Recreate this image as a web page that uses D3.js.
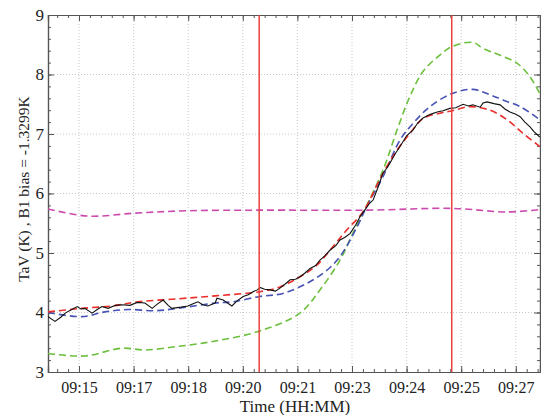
<!DOCTYPE html>
<html>
<head>
<meta charset="utf-8">
<script src="https://cdn.jsdelivr.net/npm/d3@7"></script>
<style>
  body { margin: 0; background: #fff; }
  svg { display: block; }
  text { font-family: "Liberation Serif", "DejaVu Serif", serif; fill: #222; }
</style>
</head>
<body>
<svg width="541" height="415"></svg>
<script>
  // time in decimal minutes after 09:00, value in K
  const tickMinutes = [15, 16.5, 18, 19.5, 21, 22.5, 24, 25.5, 27];
  const tickLabels = ['09:15', '09:17', '09:18', '09:20', '09:21', '09:23', '09:24', '09:25', '09:27'];
  const yTicks = [3, 4, 5, 6, 7, 8, 9];
  const markerMinutes = [19.95, 25.24];

  const blackSeries = [
    [14.15, 3.93], [14.34, 3.85], [14.5, 3.92], [14.62, 3.99], [14.8, 4.05], [14.95, 4.10],
    [15.05, 4.06], [15.16, 4.07], [15.36, 3.99], [15.5, 4.05], [15.63, 4.10], [15.8, 4.07],
    [16.0, 4.12], [16.18, 4.13], [16.4, 4.12], [16.6, 4.17], [16.81, 4.16], [17.01, 4.07],
    [17.15, 4.14], [17.31, 4.21], [17.45, 4.12], [17.55, 4.07], [17.8, 4.09], [17.99, 4.11],
    [18.15, 4.15], [18.27, 4.18], [18.4, 4.13], [18.54, 4.11], [18.74, 4.16], [18.79, 4.24],
    [18.96, 4.21], [19.1, 4.15], [19.2, 4.11], [19.35, 4.2], [19.51, 4.27], [19.65, 4.3],
    [19.78, 4.35], [19.9, 4.38], [19.97, 4.42], [20.1, 4.39], [20.25, 4.38], [20.4, 4.36],
    [20.52, 4.41], [20.65, 4.47], [20.8, 4.55], [20.95, 4.56], [21.07, 4.60], [21.2, 4.66],
    [21.35, 4.74], [21.5, 4.79], [21.62, 4.88], [21.75, 4.95], [21.90, 5.05], [22.05, 5.12],
    [22.17, 5.22], [22.3, 5.26], [22.45, 5.33], [22.6, 5.47], [22.72, 5.61], [22.85, 5.72],
    [22.99, 5.84], [23.08, 5.89], [23.2, 6.08], [23.35, 6.34], [23.45, 6.42], [23.54, 6.51],
    [23.7, 6.68], [23.82, 6.79], [24.0, 6.97], [24.18, 7.07], [24.3, 7.18], [24.45, 7.27],
    [24.65, 7.33], [24.84, 7.37], [25.0, 7.39], [25.19, 7.43], [25.35, 7.44], [25.55, 7.50],
    [25.7, 7.47], [25.82, 7.49], [26.02, 7.45], [26.1, 7.52], [26.21, 7.54], [26.4, 7.51],
    [26.57, 7.49], [26.7, 7.42], [26.84, 7.37], [27.0, 7.33], [27.12, 7.29], [27.25, 7.2],
    [27.39, 7.12], [27.5, 7.04], [27.66, 6.95]
  ];

  const redSeries = [
    [14.15, 4.01], [15.08, 4.07], [15.91, 4.11], [16.62, 4.18], [17.72, 4.23], [18.74, 4.28],
    [19.97, 4.35], [20.52, 4.43], [21.07, 4.60], [21.54, 4.80], [21.98, 5.11], [22.36, 5.39],
    [22.80, 5.69], [23.35, 6.34], [23.74, 6.73], [24.09, 7.01], [24.45, 7.26], [24.92, 7.35],
    [25.25, 7.39], [25.74, 7.46], [26.29, 7.40], [26.76, 7.24], [27.20, 7.01], [27.66, 6.79]
  ];

  const blueSeries = [
    [14.15, 4.00], [15.08, 3.93], [15.71, 4.01], [16.35, 4.05], [17.09, 4.03], [17.72, 4.07],
    [18.74, 4.16], [19.23, 4.18], [19.97, 4.27], [20.60, 4.32], [21.26, 4.49], [21.81, 4.71],
    [22.17, 4.94], [22.64, 5.44], [22.91, 5.79], [23.35, 6.28], [23.82, 6.90], [24.18, 7.18],
    [24.64, 7.46], [25.25, 7.68], [25.82, 7.75], [26.29, 7.66], [26.65, 7.57], [27.12, 7.46],
    [27.66, 7.24]
  ];

  const greenSeries = [
    [14.15, 3.31], [15.16, 3.27], [16.18, 3.40], [16.81, 3.37], [17.72, 3.43], [18.74, 3.52],
    [19.97, 3.69], [21.07, 3.99], [21.62, 4.38], [22.17, 4.88], [22.53, 5.34], [22.80, 5.67],
    [23.35, 6.39], [23.74, 7.07], [24.09, 7.63], [24.45, 8.05], [24.92, 8.33], [25.25, 8.47],
    [25.82, 8.54], [26.10, 8.44], [27.03, 8.19], [27.39, 7.96], [27.66, 7.68]
  ];

  const magentaSeries = [
    [14.15, 5.74], [15.25, 5.62], [16.54, 5.67], [17.99, 5.71], [19.97, 5.72], [22.91, 5.72],
    [25.25, 5.75], [26.76, 5.69], [27.66, 5.73]
  ];

  const margin = {top: 15, right: 1, bottom: 43, left: 48};

  const svg = d3.select('svg');
  const width = +svg.attr('width');
  const height = +svg.attr('height');
  const innerWidth = width - margin.left - margin.right;
  const innerHeight = height - margin.top - margin.bottom;

  const g = svg.append('g')
      .attr('transform', `translate(${margin.left},${margin.top})`);

  const xScale = d3.scaleLinear().domain([14.148, 27.665]).range([0, innerWidth]);
  const yScale = d3.scaleLinear().domain([3, 9]).range([innerHeight, 0]);

  // dotted grid
  g.append('g').selectAll('line').data(tickMinutes).join('line')
      .attr('x1', d => xScale(d)).attr('x2', d => xScale(d))
      .attr('y1', 0).attr('y2', innerHeight)
      .attr('stroke', '#bbb').attr('stroke-width', 0.8).attr('stroke-dasharray', '1,2');
  g.append('g').selectAll('line').data(yTicks.slice(1, -1)).join('line')
      .attr('x1', 0).attr('x2', innerWidth)
      .attr('y1', d => yScale(d)).attr('y2', d => yScale(d))
      .attr('stroke', '#bbb').attr('stroke-width', 0.8).attr('stroke-dasharray', '1,2');

  // axes with inward ticks on all four sides
  const minorX = d3.range(14.4, 27.66, 0.3);
  const minorY = d3.range(3, 9.01, 0.2);
  const axisColor = '#555';

  const xBottom = d3.axisBottom(xScale).tickValues(tickMinutes)
      .tickFormat((d, i) => tickLabels[i]).tickSize(-6).tickPadding(10);
  const xBottomG = g.append('g').attr('transform', `translate(0,${innerHeight})`).call(xBottom);
  const xTop = d3.axisTop(xScale).tickValues(tickMinutes).tickFormat('').tickSize(-6);
  g.append('g').call(xTop);
  const yLeft = d3.axisLeft(yScale).tickValues(yTicks).tickFormat(d3.format('d'))
      .tickSize(-6).tickPadding(4);
  const yLeftG = g.append('g').call(yLeft);
  const yRight = d3.axisRight(yScale).tickValues(yTicks).tickFormat('').tickSize(-6);
  g.append('g').attr('transform', `translate(${innerWidth},0)`).call(yRight);

  const minorXb = d3.axisBottom(xScale).tickValues(minorX).tickFormat('').tickSize(-3);
  g.append('g').attr('transform', `translate(0,${innerHeight})`).call(minorXb);
  const minorXt = d3.axisTop(xScale).tickValues(minorX).tickFormat('').tickSize(-3);
  g.append('g').call(minorXt);
  const minorYl = d3.axisLeft(yScale).tickValues(minorY).tickFormat('').tickSize(-3);
  g.append('g').call(minorYl);
  const minorYr = d3.axisRight(yScale).tickValues(minorY).tickFormat('').tickSize(-3);
  g.append('g').attr('transform', `translate(${innerWidth},0)`).call(minorYr);

  // drop the empty labels of the label-less axes
  g.selectAll('.tick text').filter(function() {
    return this.textContent === '';
  }).remove();

  g.selectAll('.domain').attr('stroke', axisColor).attr('stroke-width', 1.2);
  g.selectAll('.tick line').attr('stroke', axisColor);
  xBottomG.selectAll('text').attr('font-size', 16)
      .style('font-family', '"Liberation Serif", serif').attr('fill', '#222');
  yLeftG.selectAll('text').attr('font-size', 17)
      .style('font-family', '"Liberation Serif", serif').attr('fill', '#222');

  // curves
  const plotG = g.append('g');
  svg.append('defs').append('clipPath').attr('id', 'clip')
      .append('rect').attr('width', innerWidth).attr('height', innerHeight);
  plotG.attr('clip-path', 'url(#clip)');

  const smooth = d3.line()
      .x(d => xScale(d[0])).y(d => yScale(d[1]))
      .curve(d3.curveCatmullRom.alpha(0.5));
  const jagged = d3.line()
      .x(d => xScale(d[0])).y(d => yScale(d[1]));

  const dashed = [
    {data: magentaSeries, color: '#cc4aae'},
    {data: greenSeries, color: '#6cbf3a'},
    {data: blueSeries, color: '#4652b4'},
    {data: redSeries, color: '#ea2e2a'},
  ];
  plotG.selectAll('path.dash').data(dashed).join('path')
      .attr('class', 'dash')
      .attr('d', d => smooth(d.data))
      .attr('fill', 'none')
      .attr('stroke', d => d.color)
      .attr('stroke-width', 1.6)
      .attr('stroke-dasharray', '7,4');

  plotG.append('path')
      .attr('d', jagged(blackSeries))
      .attr('fill', 'none')
      .attr('stroke', '#111')
      .attr('stroke-width', 1.1);

  plotG.selectAll('line.marker').data(markerMinutes).join('line')
      .attr('class', 'marker')
      .attr('x1', d => xScale(d)).attr('x2', d => xScale(d))
      .attr('y1', 0).attr('y2', innerHeight)
      .attr('stroke', '#e8423f').attr('stroke-width', 1.5);

  // axis titles
  svg.append('text')
      .attr('x', 295).attr('y', 412)
      .attr('text-anchor', 'middle').attr('font-size', 17)
      .text('Time (HH:MM)');
  svg.append('text')
      .attr('transform', 'translate(29,189) rotate(-90)')
      .attr('text-anchor', 'middle').attr('font-size', 15.5)
      .text('TaV (K) , B1 bias = -1.3299K');
</script>
</body>
</html>
